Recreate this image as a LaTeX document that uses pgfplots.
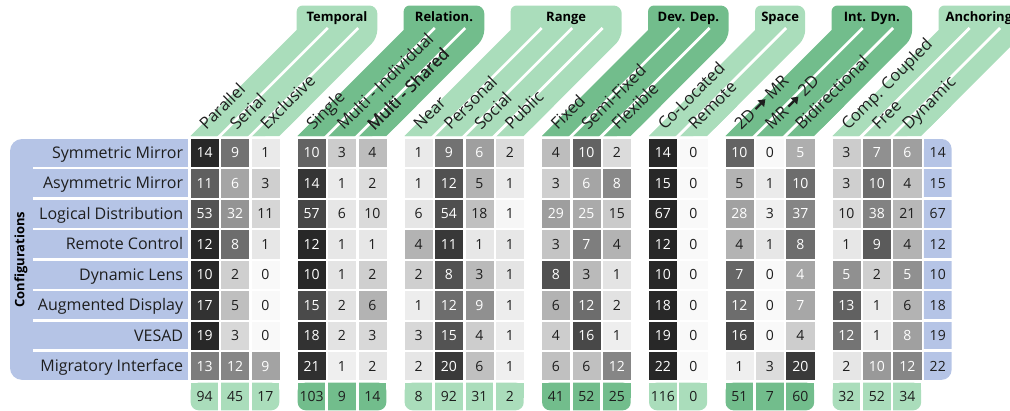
\documentclass[border=0pt]{standalone}
\usepackage{pgfplots}
\pgfplotsset{compat=1.18}
\usepackage{pgfplotstable}
\usetikzlibrary{arrows.meta}
\usepackage{fontspec}
\setmainfont{Open Sans}

\definecolor{lg}{RGB}{170,221,187}
\definecolor{dg}{RGB}{114,189,140}
\definecolor{bl}{RGB}{181,196,230}
\definecolor{txtc}{RGB}{30,30,30}

\pgfplotstableread{
Par Ser Exc Sin MI MS Nea Per Soc Pub Fix Sem Fle Col Rem TM MT Bid Com Fre Dyn Tot
14 9 1 10 3 4 1 9 6 2 4 10 2 14 0 10 0 5 3 7 6 14
11 6 3 14 1 2 1 12 5 1 3 6 8 15 0 5 1 10 3 10 4 15
53 32 11 57 6 10 6 54 18 1 29 25 15 67 0 28 3 37 10 38 21 67
12 8 1 12 1 1 4 11 1 1 3 7 4 12 0 4 1 8 1 9 4 12
10 2 0 10 1 2 2 8 3 1 8 3 1 10 0 7 0 4 5 2 5 10
17 5 0 15 2 6 1 12 9 1 6 12 2 18 0 12 0 7 13 1 6 18
19 3 0 18 2 3 3 15 4 1 4 16 1 19 0 16 0 4 12 1 8 19
13 12 9 21 1 2 2 20 6 1 6 6 12 22 0 1 3 20 2 10 12 22
}\data

\pgfplotstableread{
c g v
0 0 94
1 0 45
2 0 17
3 1 103
4 1 9
5 1 14
6 2 8
7 2 92
8 2 31
9 2 2
10 3 41
11 3 52
12 3 25
13 4 116
14 4 0
15 5 51
16 5 7
17 5 60
18 6 32
19 6 52
20 6 34
}\totals

% share of the row total (shading) and the labels split by text colour
\newcommand\mkcols[1]{%
  \pgfplotstablecreatecol[create col/expr={\thisrow{#1}/\thisrow{Tot}}]{R#1}\data
  \pgfplotstablecreatecol[create col/assign/.code={%
      \getthisrow{#1}\cv \getthisrow{Tot}\tv
      \ifnum\numexpr1000*\cv\relax>\numexpr345*\tv\relax
        \pgfkeyslet{/pgfplots/table/create col/next content}\cv
      \else
        \pgfkeyssetvalue{/pgfplots/table/create col/next content}{}%
      \fi}]{W#1}\data
  \pgfplotstablecreatecol[create col/assign/.code={%
      \getthisrow{#1}\cv \getthisrow{Tot}\tv
      \ifnum\numexpr1000*\cv\relax>\numexpr345*\tv\relax
        \pgfkeyssetvalue{/pgfplots/table/create col/next content}{}%
      \else
        \pgfkeyslet{/pgfplots/table/create col/next content}\cv
      \fi}]{B#1}\data}
\mkcols{Par}\mkcols{Ser}\mkcols{Exc}\mkcols{Sin}\mkcols{MI}\mkcols{MS}
\mkcols{Nea}\mkcols{Per}\mkcols{Soc}\mkcols{Pub}\mkcols{Fix}\mkcols{Sem}\mkcols{Fle}
\mkcols{Col}\mkcols{Rem}\mkcols{TM}\mkcols{MT}\mkcols{Bid}\mkcols{Com}\mkcols{Fre}\mkcols{Dyn}

\protected\def\rarr{\tikz[baseline=-0.6ex]\draw[line width=2.2pt,-{Triangle[length=6.5pt,width=9pt]}](0,0)--(14pt,0);}
\protected\def\semib#1{{\addfontfeature{FakeBold=1.2}#1}}

\pgfplotsset{
  cellplot/.style={scatter, only marks, mark=square*, mark size=13.65pt, point meta=explicit,
    scatter/use mapped color={draw=mapped color, fill=mapped color}},
  txtplot/.style={only marks, mark=none, point meta=explicit symbolic, nodes near coords,
    every node near coord/.append style={anchor=center, inner sep=0pt, font=\fontsize{14}{16}\selectfont, text=#1}}
}

\newcommand{\cellcol}[2]{%
  \addplot[cellplot] table[x expr=#2, y expr=\coordindex+0.455, meta=R#1]{\data};
  \addplot[txtplot=white] table[x expr=#2, y expr=\coordindex+0.455, meta=W#1]{\data};
  \addplot[txtplot=txtc] table[x expr=#2, y expr=\coordindex+0.455, meta=B#1]{\data};}

% header band: start X, number of columns, colour
\newcommand{\band}[3]{%
  \fill[#3] (#1,-0.0985) -- (#1+3.481,-3.58) [rounded corners=6pt] -- (#1+3.481,-4.384) [rounded corners=8pt] -- (#1+#2+3.128,-4.384) -- (#1+#2+3.128,-3.317) [rounded corners=14pt] -- (#1+#2-0.09,-0.0985) [sharp corners] -- cycle;
  \fill[#3] (#1,-0.0985) -- (#1+1,-1.0985) -- (#1+#2-0.09+1,-1.0985) -- (#1+#2-0.09,-0.0985) -- cycle;}
\newcommand{\bsep}[1]{\draw[white, line width=2.7pt] (#1-0.045-0.0985,0) -- (#1-0.045+3.547,-3.645);}
\newcommand{\totbg}[3]{%
  \fill[#3, rounded corners=8pt] (#1,8) rectangle (#1+#2-0.09,8.91);
  \fill[#3] (#1,8) rectangle (#1+#2-0.09,8.5);}
\newcommand{\tsep}[1]{\draw[white, line width=2.7pt] (#1-0.045,7.95) -- (#1-0.045,8.96);}

\begin{document}
\begin{tikzpicture}
\begin{axis}[
  set layers,
  x=30.45pt, y=30.45pt, y dir=reverse,
  xmin=-0.243, xmax=24.988, ymin=0, ymax=8.91,
  enlargelimits=false, clip=false,
  axis line style={draw=none}, tick style={draw=none}, major tick length=0pt,
  colormap={cg}{rgb255=(249,249,249) rgb255=(40,40,40)},
  point meta min=0, point meta max=1,
  xtick={0.455,1.455,2.455,3.968,4.968,5.968,7.481,8.481,9.481,10.481,11.994,12.994,13.994,15.507,16.507,18.02,19.02,20.02,21.533,22.533,23.533},
  xticklabels={Parallel,Serial,Exclusive,Single,Multi - Individual,\semib{Multi - Shared},Near,Personal,Social,Public,Fixed,Semi-Fixed,Flexible,Co-Located,Remote,2D\,\rarr\,MR,MR\,\rarr\,2D,Bidirectional,Comp. Coupled,Free,Dynamic},
  xticklabel pos=right,
  xticklabel style={rotate=45, anchor=west, inner sep=0pt, text height=11pt, text depth=0pt, xshift=7pt, yshift=10pt, font=\fontsize{16.5}{19}\selectfont, text=txtc},
  ytick={0.455,1.455,2.455,3.455,4.455,5.455,6.455,7.455},
  yticklabels={Symmetric Mirror,Asymmetric Mirror,Logical Distribution,Remote Control,Dynamic Lens,Augmented Display,VESAD,Migratory Interface},
  yticklabel style={anchor=base east, inner sep=0pt, yshift=-5.45pt, font=\fontsize{16}{19}\selectfont, text=txtc},
]
\begin{pgfonlayer}{axis background}
  % row label box
  \fill[bl, rounded corners=12pt] (-5.934,0) rectangle (-0.089,7.91);
  \fill[bl] (-3,0) rectangle (-0.089,7.91);
  \pgfplotsinvokeforeach{0,...,6}{\draw[white, line width=2.7pt] (-5.169,#1+0.955) -- (0,#1+0.955);}
  % row totals column
  \fill[bl, rounded corners=10pt] (24.078,0) rectangle (24.988,7.91);
  \fill[bl] (24.078,0) rectangle (24.5,7.91);
  \pgfplotsinvokeforeach{0,...,6}{\draw[white, line width=2.7pt] (24.0,#1+0.955) -- (25.05,#1+0.955);}
  % header bands
  \band{0}{3}{lg}      \bsep{1}\bsep{2}
  \band{3.513}{3}{dg}  \bsep{4.513}\bsep{5.513}
  \band{7.026}{4}{lg}  \bsep{8.026}\bsep{9.026}\bsep{10.026}
  \band{11.539}{3}{dg} \bsep{12.539}\bsep{13.539}
  \band{15.052}{2}{lg} \bsep{16.052}
  \band{17.565}{3}{dg} \bsep{18.565}\bsep{19.565}
  \band{21.078}{3}{lg} \bsep{22.078}\bsep{23.078}
  % totals row
  \totbg{0}{3}{lg}      \tsep{1}\tsep{2}
  \totbg{3.513}{3}{dg}  \tsep{4.513}\tsep{5.513}
  \totbg{7.026}{4}{lg}  \tsep{8.026}\tsep{9.026}\tsep{10.026}
  \totbg{11.539}{3}{dg} \tsep{12.539}\tsep{13.539}
  \totbg{15.052}{2}{lg} \tsep{16.052}
  \totbg{17.565}{3}{dg} \tsep{18.565}\tsep{19.565}
  \totbg{21.078}{3}{lg} \tsep{22.078}\tsep{23.078}
\end{pgfonlayer}

\cellcol{Par}{0.455}
\cellcol{Ser}{1.455}
\cellcol{Exc}{2.455}
\cellcol{Sin}{3.968}
\cellcol{MI}{4.968}
\cellcol{MS}{5.968}
\cellcol{Nea}{7.481}
\cellcol{Per}{8.481}
\cellcol{Soc}{9.481}
\cellcol{Pub}{10.481}
\cellcol{Fix}{11.994}
\cellcol{Sem}{12.994}
\cellcol{Fle}{13.994}
\cellcol{Col}{15.507}
\cellcol{Rem}{16.507}
\cellcol{TM}{18.02}
\cellcol{MT}{19.02}
\cellcol{Bid}{20.02}
\cellcol{Com}{21.533}
\cellcol{Fre}{22.533}
\cellcol{Dyn}{23.533}

\addplot[txtplot=txtc] table[x expr=24.533, y expr=\coordindex+0.455, meta=Tot]{\data};
\addplot[txtplot=txtc] table[x expr=\thisrow{c}+0.513*\thisrow{g}+0.455, y expr=8.455, meta=v]{\totals};

\begin{scope}[every node/.style={font=\bfseries\fontsize{13}{15}\selectfont, anchor=base, text=black}]
  \node at (4.8045,-3.86) {Temporal};
  \node at (8.3175,-3.86) {Relation.};
  \node at (12.3305,-3.86) {Range};
  \node at (16.3435,-3.86) {Dev. Dep.};
  \node at (19.3565,-3.86) {Space};
  \node at (22.3695,-3.86) {Int. Dyn.};
  \node at (25.8825,-3.86) {Anchoring};
\end{scope}
\node[rotate=90, font=\bfseries\fontsize{13}{15}\selectfont, text=black] at (-5.573,3.957) {Configurations};

\coordinate (BL) at (-6.263,8.91);
\coordinate (TR) at (26.906,-4.565);
\end{axis}
\pgfresetboundingbox
\path (BL) rectangle (TR);
\end{tikzpicture}
\end{document}
